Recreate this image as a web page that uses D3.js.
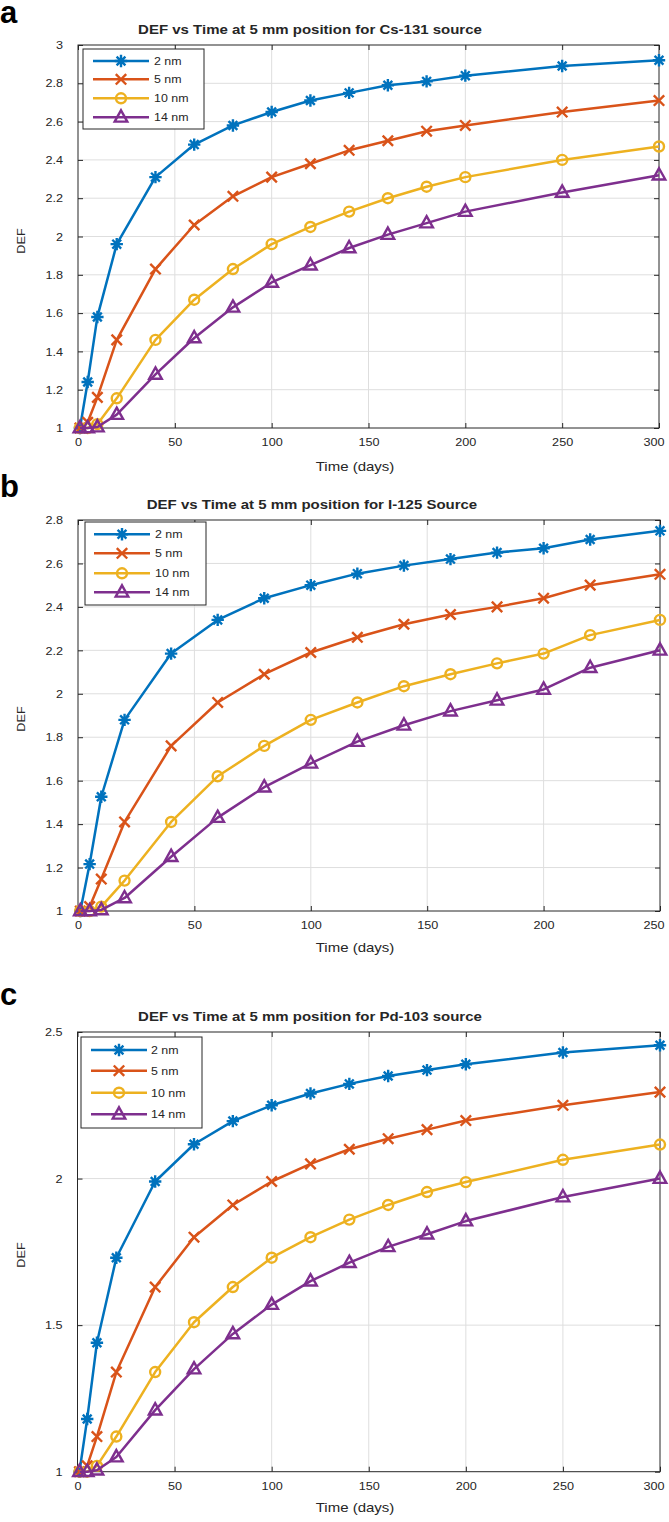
<!DOCTYPE html>
<html><head><meta charset="utf-8">
<script src="https://cdn.jsdelivr.net/npm/d3@7"></script>
<style>
body{margin:0;background:#fff}
svg{display:block}
text{font-family:"Liberation Sans",Arial,Helvetica,sans-serif;fill:#262626}
</style>
</head><body>
<svg id="chart" width="669" height="1522"></svg>
<script>
// ---------------- data ----------------
const seriesNames = ["2 nm", "5 nm", "10 nm", "14 nm"];

const timesA = [1, 5, 10, 20, 40, 60, 80, 100, 120, 140, 160, 180, 200, 250, 300];
const defA_2nm  = [1, 1.24, 1.58, 1.96, 2.31, 2.48, 2.58, 2.65, 2.71, 2.75, 2.79, 2.81, 2.84, 2.89, 2.92];
const defA_5nm  = [1, 1.03, 1.16, 1.46, 1.83, 2.06, 2.21, 2.31, 2.38, 2.45, 2.50, 2.55, 2.58, 2.65, 2.71];
const defA_10nm = [1, 1.0, 1.02, 1.155, 1.46, 1.67, 1.83, 1.96, 2.05, 2.13, 2.20, 2.26, 2.31, 2.40, 2.47];
const defA_14nm = [1, 1.0, 1.005, 1.07, 1.28, 1.47, 1.63, 1.76, 1.85, 1.94, 2.01, 2.07, 2.13, 2.23, 2.32];

const timesB = [1, 5, 10, 20, 40, 60, 80, 100, 120, 140, 160, 180, 200, 220, 250];
const defB_2nm  = [1, 1.216, 1.526, 1.88, 2.185, 2.34, 2.44, 2.50, 2.553, 2.59, 2.62, 2.65, 2.67, 2.71, 2.75];
const defB_5nm  = [1, 1.02, 1.147, 1.41, 1.76, 1.96, 2.09, 2.19, 2.26, 2.32, 2.365, 2.40, 2.44, 2.50, 2.55];
const defB_10nm = [1, 1.0, 1.02, 1.14, 1.41, 1.62, 1.76, 1.88, 1.96, 2.035, 2.09, 2.14, 2.185, 2.27, 2.34];
const defB_14nm = [1, 1.0, 1.005, 1.06, 1.25, 1.43, 1.57, 1.68, 1.78, 1.855, 1.92, 1.97, 2.02, 2.12, 2.20];

const timesC = [1, 5, 10, 20, 40, 60, 80, 100, 120, 140, 160, 180, 200, 250, 300];
const defC_2nm  = [1, 1.18, 1.44, 1.73, 1.99, 2.117, 2.196, 2.25, 2.29, 2.323, 2.35, 2.37, 2.39, 2.43, 2.455];
const defC_5nm  = [1, 1.02, 1.12, 1.34, 1.63, 1.80, 1.91, 1.99, 2.05, 2.10, 2.136, 2.167, 2.198, 2.25, 2.295];
const defC_10nm = [1, 1.0, 1.02, 1.12, 1.34, 1.51, 1.63, 1.73, 1.80, 1.86, 1.91, 1.954, 1.988, 2.064, 2.116];
const defC_14nm = [1, 1.0, 1.005, 1.05, 1.21, 1.35, 1.47, 1.57, 1.65, 1.713, 1.767, 1.81, 1.855, 1.937, 2.0];

const xTicksA = [0, 50, 100, 150, 200, 250, 300];
const xTicksB = [0, 50, 100, 150, 200, 250];
const xTicksC = [0, 50, 100, 150, 200, 250, 300];
const yTicksA = [1, 1.2, 1.4, 1.6, 1.8, 2, 2.2, 2.4, 2.6, 2.8, 3];
const yTicksB = [1, 1.2, 1.4, 1.6, 1.8, 2, 2.2, 2.4, 2.6, 2.8];
const yTicksC = [1, 1.5, 2, 2.5];

const titles = [
  "DEF vs Time at 5 mm position for Cs-131 source",
  "DEF vs Time at 5 mm position for I-125 Source",
  "DEF vs Time at 5 mm position for Pd-103 source"
];
const panelLetters = ["a", "b", "c"];
const xLabel = "Time (days)";
const yLabel = "DEF";

// ---------------- style / layout ----------------
const colors = ["#0072BD", "#D95319", "#EDB120", "#7E2F8E"];
const markerTypes = ["asterisk", "x", "circle", "triangle"];

const panels = [
  { times: timesA, series: [defA_2nm, defA_5nm, defA_10nm, defA_14nm], xTicks: xTicksA, yTicks: yTicksA,
    xMax: 300, yMax: 3, L: 78, R: 659, T: 45, B: 428,
    titleX: 310, titleY: 34, letterY: 23, xLabelX: 355, xLabelY: 471, yLabelY: 241,
    leg: { x0: 83, x1: 204, y0: 49, y1: 129, rows: [61, 79.3, 98.3, 117.3], lx0: 93, lx1: 149, tx: 154 } },
  { times: timesB, series: [defB_2nm, defB_5nm, defB_10nm, defB_14nm], xTicks: xTicksB, yTicks: yTicksB,
    xMax: 250, yMax: 2.8, L: 78, R: 660, T: 520, B: 911,
    titleX: 312, titleY: 509, letterY: 497, xLabelX: 355, xLabelY: 952, yLabelY: 719,
    leg: { x0: 85, x1: 206, y0: 522, y1: 605, rows: [534.3, 553.3, 573.3, 592.3], lx0: 94, lx1: 150, tx: 155 } },
  { times: timesC, series: [defC_2nm, defC_5nm, defC_10nm, defC_14nm], xTicks: xTicksC, yTicks: yTicksC,
    xMax: 300, yMax: 2.5, L: 77.5, R: 660, T: 1032, B: 1471.7,
    titleX: 310, titleY: 1021, letterY: 1005, xLabelX: 355, xLabelY: 1512, yLabelY: 1255,
    leg: { x0: 81, x1: 202, y0: 1037, y1: 1128, rows: [1050, 1070.7, 1092.7, 1114.3], lx0: 91, lx1: 147, tx: 151 } }
];

const svg = d3.select("#chart");
svg.append("rect").attr("width", 669).attr("height", 1522).attr("fill", "#fff");

function stext(g, x, y, str, size, weight, anchor, sx, rot) {
  const t = g.append("text")
    .attr("transform", `translate(${x},${y})` + (rot ? ` rotate(${rot})` : "") + ` scale(${sx},1)`)
    .attr("text-anchor", anchor)
    .style("font-size", size + "px")
    .style("font-weight", weight)
    .text(str);
  return t;
}

function drawMarker(g, type, cx, cy, color) {
  const sw = 2.4;
  if (type === "asterisk") {
    const r = 6.2, d = 4.4;
    g.append("path").attr("d",
      `M${cx - r},${cy}h${2 * r}M${cx},${cy - r}v${2 * r}M${cx - d},${cy - d}l${2 * d},${2 * d}M${cx - d},${cy + d}l${2 * d},${-2 * d}`)
      .attr("stroke", color).attr("stroke-width", sw).attr("fill", "none");
  } else if (type === "x") {
    const d = 5.2;
    g.append("path").attr("d", `M${cx - d},${cy - d}l${2 * d},${2 * d}M${cx - d},${cy + d}l${2 * d},${-2 * d}`)
      .attr("stroke", color).attr("stroke-width", sw).attr("fill", "none");
  } else if (type === "circle") {
    g.append("circle").attr("cx", cx).attr("cy", cy).attr("r", 5)
      .attr("stroke", color).attr("stroke-width", sw).attr("fill", "none");
  } else {
    g.append("path").attr("d", `M${cx},${cy - 7}L${cx + 6.3},${cy + 4.3}L${cx - 6.3},${cy + 4.3}Z`)
      .attr("stroke", color).attr("stroke-width", sw).attr("fill", "none").attr("stroke-linejoin", "miter");
  }
}

const fmt = v => String(+v.toFixed(1));
const tickFs = 11.5, tickSx = 1.1;

panels.forEach((p, pi) => {
  const g = svg.append("g");
  const x = d3.scaleLinear().domain([0, p.xMax]).range([p.L, p.R]);
  const y = d3.scaleLinear().domain([1, p.yMax]).range([p.B, p.T]);

  // grid
  g.append("g").selectAll("line").data(p.xTicks.filter(t => t > 0 && t < p.xMax)).join("line")
    .attr("x1", d => x(d)).attr("x2", d => x(d)).attr("y1", p.T).attr("y2", p.B)
    .attr("stroke", "#dedede").attr("stroke-width", 1);
  g.append("g").selectAll("line").data(p.yTicks.filter(t => t > 1 && t < p.yMax)).join("line")
    .attr("x1", p.L).attr("x2", p.R).attr("y1", d => y(d)).attr("y2", d => y(d))
    .attr("stroke", "#dedede").attr("stroke-width", 1);

  // axes
  const axB = g.append("g").attr("transform", `translate(0,${p.B})`)
    .call(d3.axisBottom(x).tickValues(p.xTicks).tickSize(-5).tickSizeOuter(0).tickPadding(18 - 0.71 * tickFs).tickFormat(d3.format("d")));
  const axL = g.append("g").attr("transform", `translate(${p.L},0)`)
    .call(d3.axisLeft(y).tickValues(p.yTicks).tickSize(-5).tickSizeOuter(0).tickPadding(15 / tickSx).tickFormat(fmt));
  const axT = g.append("g").attr("transform", `translate(0,${p.T})`)
    .call(d3.axisTop(x).tickValues(p.xTicks).tickSize(-5).tickSizeOuter(0).tickFormat(""));
  const axR = g.append("g").attr("transform", `translate(${p.R},0)`)
    .call(d3.axisRight(y).tickValues(p.yTicks).tickSize(-5).tickSizeOuter(0).tickFormat(""));
  [axB, axL, axT, axR].forEach(a => {
    a.select(".domain").remove();
    a.selectAll(".tick line").attr("stroke", "#262626");
    a.selectAll("text").attr("font-family", null).style("font-size", tickFs + "px").attr("fill", "#262626")
      .attr("transform", `scale(${tickSx},1)`);
  });
  // keep the last x tick label inside the picture
  axB.selectAll(".tick text").filter(d => d === p.xMax)
    .attr("text-anchor", "end").attr("x", (664 - x(p.xMax)) / tickSx);

  g.append("rect").attr("x", p.L).attr("y", p.T).attr("width", p.R - p.L).attr("height", p.B - p.T)
    .attr("fill", "none").attr("stroke", "#262626").attr("stroke-width", 1);

  // series
  const line = d3.line().x((d, i) => x(p.times[i])).y(d => y(d));
  p.series.forEach((vals, si) => {
    const sg = g.append("g");
    sg.append("path").attr("d", line(vals)).attr("fill", "none")
      .attr("stroke", colors[si]).attr("stroke-width", 2.5).attr("stroke-linejoin", "round");
    vals.forEach((v, i) => drawMarker(sg, markerTypes[si], x(p.times[i]), y(v), colors[si]));
  });

  // legend
  const L = p.leg;
  g.append("rect").attr("x", L.x0).attr("y", L.y0).attr("width", L.x1 - L.x0).attr("height", L.y1 - L.y0)
    .attr("fill", "#fff").attr("stroke", "#262626").attr("stroke-width", 1);
  seriesNames.forEach((name, si) => {
    const ry = L.rows[si];
    g.append("line").attr("x1", L.lx0).attr("x2", L.lx1).attr("y1", ry).attr("y2", ry)
      .attr("stroke", colors[si]).attr("stroke-width", 2.5);
    drawMarker(g, markerTypes[si], (L.lx0 + L.lx1) / 2, ry, colors[si]);
    stext(g, L.tx, ry + 4, name, 11.5, "normal", "start", 1.08);
  });

  // texts
  stext(g, p.titleX, p.titleY, titles[pi], 12.5, "bold", "middle", 1.2);
  stext(g, p.xLabelX, p.xLabelY, xLabel, 12.5, "normal", "middle", 1.2);
  stext(g, 25, p.yLabelY, yLabel, 11.5, "normal", "middle", 1.1, -90);
  stext(g, 0, p.letterY, panelLetters[pi], 31, "bold", "start", 1.0).style("fill", "#000");
});
</script>
</body></html>
